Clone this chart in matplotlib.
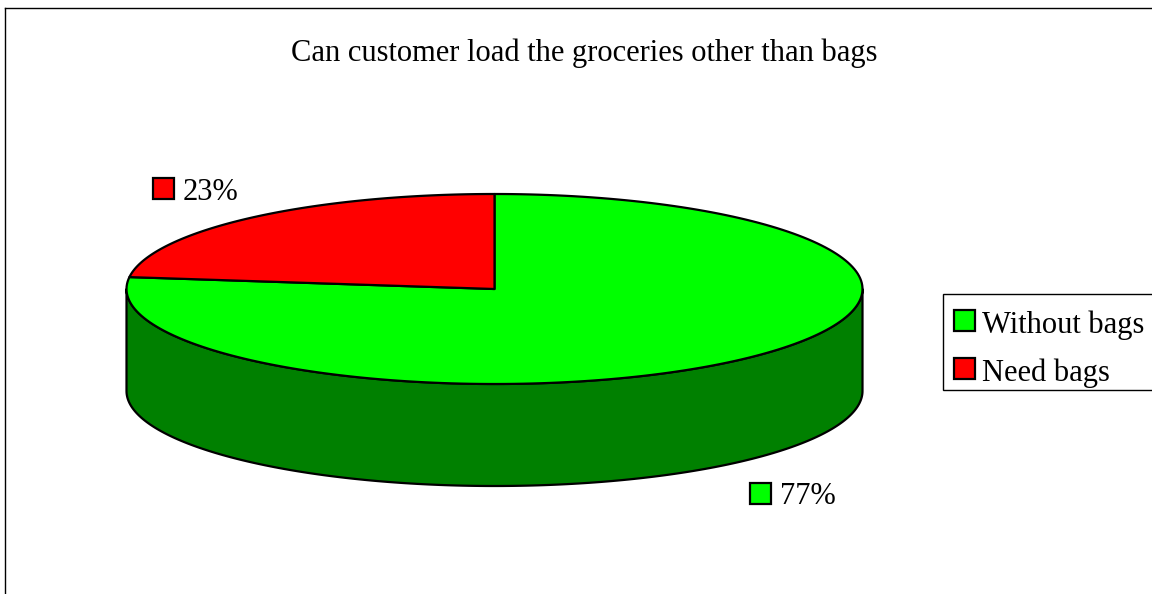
import numpy as np
import matplotlib
matplotlib.use('Agg')
import matplotlib.pyplot as plt
from matplotlib.patches import Polygon, Rectangle

plt.rcParams['font.family'] = ['Liberation Serif', 'DejaVu Serif']

title = 'Can customer load the groceries other than bags'
categories = ['Without bags', 'Need bags']
values = [77, 23]
labels = ['77%', '23%']
colors = ['#00ff00', '#ff0000']
side_color = '#008000'

# ellipse of the pie, in pixels
cx, cy, rx, ry, depth = 494.5, 289, 368, 95, 102


def arc(a0, a1, n=200):
	t = np.radians(np.linspace(a0, a1, n))
	return np.column_stack([cx + rx*np.cos(t), cy - ry*np.sin(t)])


fig = plt.figure(figsize=(11.52, 5.94), dpi=100)
ax = fig.add_axes([0, 0, 1, 1])
ax.set_xlim(0, 1152)
ax.set_ylim(594, 0)
ax.axis('off')

# outer frame runs off the right and bottom edge
ax.plot([5, 5], [600, 8], color='black', lw=1)
ax.plot([5, 1160], [8, 8], color='black', lw=1)

ax.text(584, 53, title, ha='center', va='center', fontsize=22)

# side wall
front = arc(180, 360)
wall = np.vstack([front, (front + [0, depth])[::-1]])
ax.add_patch(Polygon(wall, closed=True, fc=side_color, ec='black', lw=1.6, joinstyle='round'))

# slices go clockwise from the top
start = 90
for i in range(len(values)):
	sweep = values[i] / sum(values) * 360
	pts = arc(start - sweep, start)
	pts = np.vstack([[cx, cy], pts])
	ax.add_patch(Polygon(pts, closed=True, fc=colors[i], ec='black', lw=1.6, joinstyle='round'))
	start -= sweep

# data labels with key squares
label_pos = [(750, 483), (153, 178)]
for i in range(len(labels)):
	x, y = label_pos[i]
	ax.add_patch(Rectangle((x, y), 21, 21, fc=colors[i], ec='black', lw=1.6))
	ax.text(x + 30, y + 14, labels[i], ha='left', va='center', fontsize=22)

# legend
ax.add_patch(Rectangle((943, 294), 220, 96, fc='white', ec='black', lw=1))
for i in range(len(categories)):
	y = 310 + i*48
	ax.add_patch(Rectangle((954, y), 21, 21, fc=colors[i], ec='black', lw=1.6))
	ax.text(982, y + 15, categories[i], ha='left', va='center', fontsize=22)

fig.savefig('out.png', dpi=100)
